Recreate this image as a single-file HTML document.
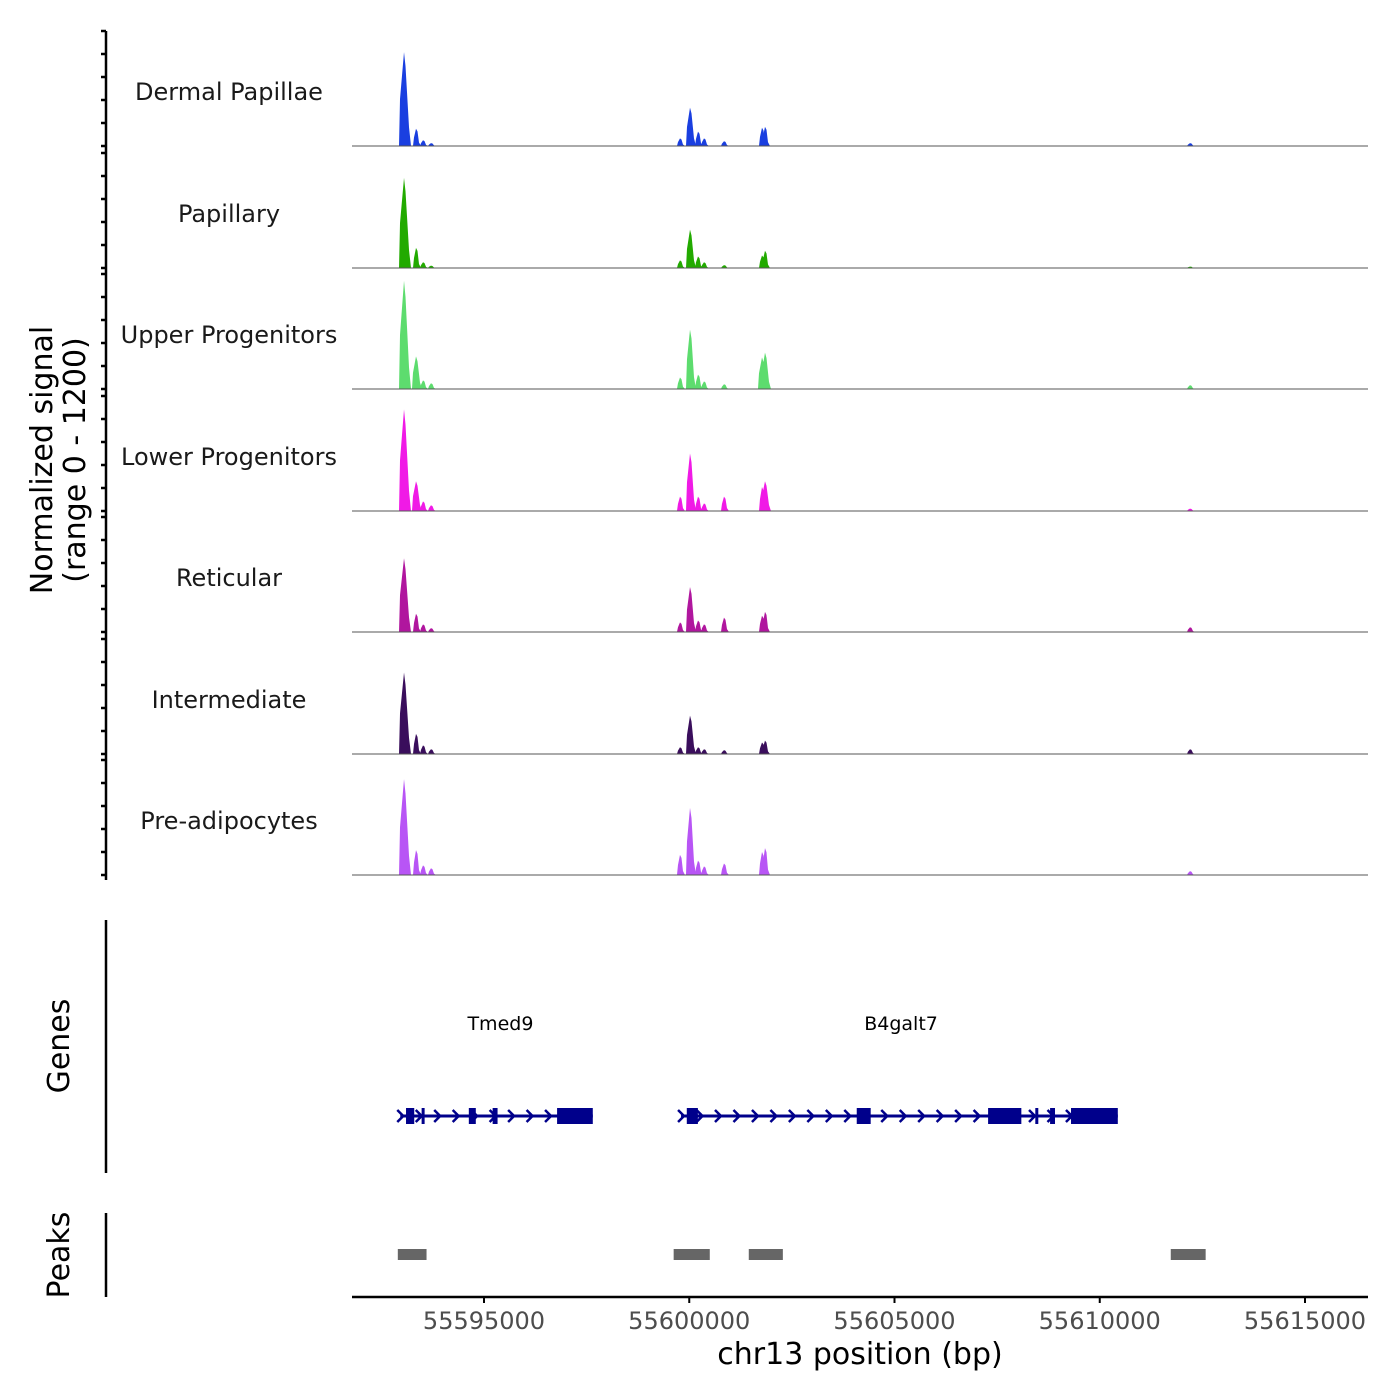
<!DOCTYPE html>
<html><head><meta charset="utf-8"><style>
html,body{margin:0;padding:0;background:#fff;}
svg{display:block;font-family:"DejaVu Sans","Liberation Sans",sans-serif;}
</style></head><body>
<svg id="chart" width="1400" height="1400" viewBox="0 0 1400 1400" xmlns="http://www.w3.org/2000/svg">
<g id="tracks"></g>
<g id="genes"></g>
<g id="peaks"></g>
<g id="axes"></g>
</svg>
<script>
const trackNames = ["Dermal Papillae","Papillary","Upper Progenitors","Lower Progenitors","Reticular","Intermediate","Pre-adipocytes"];
const trackColors = ["#1a3fe0","#22aa00","#5ddc6e","#f01ae6","#b0169e","#3a0e5c","#b855f5"];
const peakPositions = [55593051,55593343,55593514,55593708,55599774,55600018,55600213,55600359,55600846,55601772,55601845,55612198];
const sigDermal = [980,180,60,30,80,400,150,80,50,190,200,30];
const sigPapillary = [940,210,60,25,80,400,120,60,30,130,180,15];
const sigUpper = [1130,340,90,60,120,620,150,80,50,330,380,40];
const sigLower = [1060,310,100,60,150,600,150,80,150,250,310,25];
const sigReticular = [770,190,80,40,100,470,120,80,150,170,210,50];
const sigIntermediate = [850,210,90,50,70,400,70,50,40,120,140,50];
const sigPreadip = [1000,260,100,70,210,700,150,90,120,240,280,40];
const allSignals = [sigDermal,sigPapillary,sigUpper,sigLower,sigReticular,sigIntermediate,sigPreadip];
const yMax = 1200;
const xTicks = [55595000,55600000,55605000,55610000,55615000];
const peakRegions = [[55592900,55593600],[55599620,55600500],[55601450,55602280],[55611730,55612580]];
const genes = [
 {name:"Tmed9", start:55592960, end:55597650, label:55595400,
  exons:[[55593100,55593300],[55593480,55593550],[55594630,55594800],[55595210,55595330],[55596780,55597650]]},
 {name:"B4galt7", start:55599800, end:55610440, label:55605160,
  exons:[[55599940,55600210],[55604080,55604420],[55607280,55608090],[55608430,55608500],[55608790,55608910],[55609300,55610440]]}
];

const NS="http://www.w3.org/2000/svg";
const X0=352,X1=1368,D0=55591784,D1=55616535;
const xs=v=>X0+(v-D0)/(D1-D0)*(X1-X0);
const baselines=[146,268,389,511,632,754,875];
const panelH=115;
function mk(tag,attrs,parent){const e=document.createElementNS(NS,tag);for(const k in attrs)e.setAttribute(k,attrs[k]);parent.appendChild(e);return e;}
const tracks=document.getElementById('tracks');
trackNames.forEach((name,i)=>{
  const b=baselines[i];
  const ys=v=>b-v/yMax*panelH;
  const t=mk('text',{x:229,y:b-46,'text-anchor':'middle','font-size':24,fill:'#1a1a1a'},tracks);
  t.textContent=name;
  
  
  allSignals[i].forEach((v,j)=>{
    const cx=xs(peakPositions[j]);
    const w=j===0?5:(v>300?4:3);
    const p=mk('path',{d:`M${cx-w},${b} L${cx-w+1},${ys(v*0.5)} L${cx},${ys(v)} L${cx+1.5},${ys(v*0.85)} L${cx+w},${ys(v*0.2)} L${cx+w+2},${b} Z`,fill:trackColors[i]},tracks);
    
    
  });
  const l=mk('line',{x1:X0,x2:X1,y1:b,y2:b,stroke:'#555','stroke-width':1},tracks);
  
  
});
const gg=document.getElementById('genes');
const gy=1116;
genes.forEach(g=>{
  const t=mk('text',{x:xs(g.label),y:1030,'text-anchor':'middle','font-size':19,fill:'#000'},gg);
  t.textContent=g.name;
  
  
  const l=mk('line',{x1:xs(g.start),x2:xs(g.end),y1:gy,y2:gy,stroke:'#00008b','stroke-width':3},gg);
  
  
  for(let p=g.start;p<g.end;p+=450){
    const x=xs(p);
    const c=mk('path',{d:`M${x-3},${gy-6} L${x+3},${gy} L${x-3},${gy+6}`,stroke:'#00008b','stroke-width':2.5,fill:'none'},gg);
    
    
  }
  g.exons.forEach(e=>{
    const r=mk('rect',{x:xs(e[0]),y:gy-8,width:Math.max(3,xs(e[1])-xs(e[0])),height:16,fill:'#00008b'},gg);
    
    
  });
});
const pg=document.getElementById('peaks');
peakRegions.forEach(r=>{
  const e=mk('rect',{x:xs(r[0]),y:1249,width:xs(r[1])-xs(r[0]),height:11,fill:'#666'},pg);
  
  
});
const ax=document.getElementById('axes');
mk('line',{x1:106,x2:106,y1:31,y2:880,stroke:'#000','stroke-width':2.5},ax);
baselines.forEach(b=>{for(let k=0;k<=5;k++){const y=b-k*23;mk('line',{x1:101,x2:106,y1:y,y2:y,stroke:'#000','stroke-width':2.5},ax);}});
mk('line',{x1:106,x2:106,y1:920,y2:1173,stroke:'#000','stroke-width':2.5},ax);
mk('line',{x1:106,x2:106,y1:1213,y2:1297,stroke:'#000','stroke-width':2.5},ax);
mk('line',{x1:X0,x2:X1,y1:1297,y2:1297,stroke:'#000','stroke-width':2.5},ax);
xTicks.forEach(v=>{
  const x=xs(v);
  mk('line',{x1:x,x2:x,y1:1297,y2:1303,stroke:'#000','stroke-width':2},ax);
  const t=mk('text',{x:x,y:1329,'text-anchor':'middle','font-size':24,fill:'#4d4d4d'},ax);
  t.textContent=v;
  
  
});
const xt=mk('text',{x:860,y:1364,'text-anchor':'middle','font-size':30,fill:'#000'},ax);
xt.textContent='chr13 position (bp)';


const yt=mk('text',{transform:'translate(52,460) rotate(-90)','text-anchor':'middle','font-size':30,fill:'#000'},ax);


const ts1=mk('tspan',{x:0,dy:0},yt);ts1.textContent='Normalized signal';
const ts2=mk('tspan',{x:0,dy:33},yt);ts2.textContent='(range 0 - 1200)';
const gt=mk('text',{transform:'translate(69,1046) rotate(-90)','text-anchor':'middle','font-size':30,fill:'#000'},ax);
gt.textContent='Genes';


const pt=mk('text',{transform:'translate(69,1255) rotate(-90)','text-anchor':'middle','font-size':30,fill:'#000'},ax);
pt.textContent='Peaks';


</script>
</body></html>
